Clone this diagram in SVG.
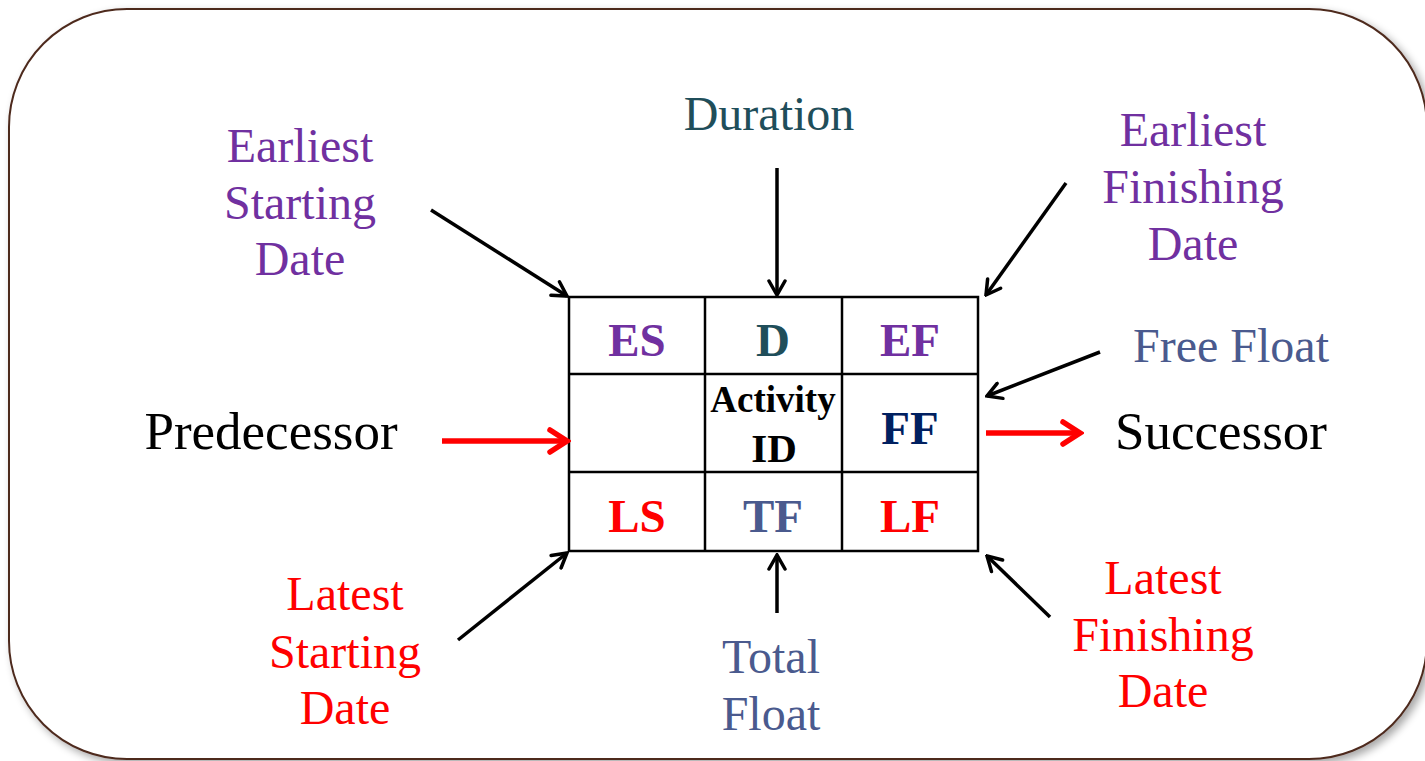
<svg xmlns="http://www.w3.org/2000/svg" width="1425" height="761" viewBox="0 0 1425 761">
  <defs>
    <filter id="shadow" x="-5%" y="-5%" width="110%" height="110%">
      <feGaussianBlur in="SourceAlpha" stdDeviation="4"/>
      <feOffset dx="4" dy="4" result="b"/>
      <feComponentTransfer><feFuncA type="linear" slope="0.35"/></feComponentTransfer>
      <feMerge><feMergeNode/><feMergeNode in="SourceGraphic"/></feMerge>
    </filter>
    <marker id="head" markerUnits="userSpaceOnUse" viewBox="0 0 20 20" refX="18" refY="10" markerWidth="20" markerHeight="20" orient="auto">
      <path d="M4,2 L18,10 L4,18" fill="none" stroke="#000" stroke-width="3.5" stroke-linecap="round" stroke-linejoin="miter"/>
    </marker>
    <marker id="headRed" markerUnits="userSpaceOnUse" viewBox="0 0 30 30" refX="26" refY="15" markerWidth="30" markerHeight="30" orient="auto">
      <path d="M9,4 L26,15 L9,26" fill="none" stroke="#ff0000" stroke-width="5.5" stroke-linecap="round" stroke-linejoin="miter"/>
    </marker>
  </defs>
  <style>
    .lbl { font-family: "Liberation Serif", "Times New Roman", serif; font-size: 48px; text-anchor: middle; }
    .big { font-size: 53px; }
    .cell { font-family: "Liberation Serif", "Times New Roman", serif; font-size: 47px; font-weight: bold; text-anchor: middle; }
    .act { font-size: 37px; }
    .id { font-size: 41px; }
    .purple { fill: #7030a0; }
    .teal { fill: #1f4e5a; }
    .slate { fill: #4a5a8e; }
    .navy { fill: #002060; }
    .red { fill: #ff0000; }
    .black { fill: #000; }
    .grid { fill: #fff; stroke: #000; stroke-width: 2.5; }
    .gl { stroke: #000; stroke-width: 2.5; }
    .arr { stroke: #000; stroke-width: 3.5; fill: none; marker-end: url(#head); }
    .arrRed { stroke: #ff0000; stroke-width: 5.5; fill: none; marker-end: url(#headRed); }
  </style>

  <rect width="1425" height="761" fill="#fff"/>

  <!-- outer rounded frame -->
  <rect id="frame" x="9" y="9" width="1418" height="750" rx="118" ry="118" fill="#fff" stroke="#4e2a1e" stroke-width="2" filter="url(#shadow)"/>

  <!-- activity node grid -->
  <g id="activity-node">
    <rect class="grid" x="569" y="297" width="409" height="254"/>
    <line class="gl" x1="705" y1="297" x2="705" y2="551"/>
    <line class="gl" x1="842" y1="297" x2="842" y2="551"/>
    <line class="gl" x1="569" y1="374" x2="978" y2="374"/>
    <line class="gl" x1="569" y1="472" x2="978" y2="472"/>
    <text class="cell purple" x="637" y="356">ES</text>
    <text class="cell teal" x="773" y="356">D</text>
    <text class="cell purple" x="910" y="356">EF</text>
    <text class="cell act black" x="773" y="412">Activity</text>
    <text class="cell id black" x="774" y="462">ID</text>
    <text class="cell navy" x="910" y="444">FF</text>
    <text class="cell red" x="637" y="532">LS</text>
    <text class="cell slate" x="773" y="532">TF</text>
    <text class="cell red" x="910" y="532">LF</text>
  </g>

  <!-- labels -->
  <g id="label-es">
    <text class="lbl purple" x="300" y="162">Earliest</text>
    <text class="lbl purple" x="300" y="219">Starting</text>
    <text class="lbl purple" x="300" y="275">Date</text>
  </g>
  <g id="label-duration">
    <text class="lbl teal" x="769" y="130">Duration</text>
  </g>
  <g id="label-ef">
    <text class="lbl purple" x="1193" y="146">Earliest</text>
    <text class="lbl purple" x="1193" y="203">Finishing</text>
    <text class="lbl purple" x="1193" y="260">Date</text>
  </g>
  <g id="label-ff">
    <text class="lbl slate" x="1231" y="362">Free Float</text>
  </g>
  <g id="label-predecessor">
    <text class="lbl big black" x="271" y="449">Predecessor</text>
  </g>
  <g id="label-successor">
    <text class="lbl big black" x="1221" y="449">Successor</text>
  </g>
  <g id="label-ls">
    <text class="lbl red" x="345" y="610">Latest</text>
    <text class="lbl red" x="345" y="668">Starting</text>
    <text class="lbl red" x="345" y="724">Date</text>
  </g>
  <g id="label-tf">
    <text class="lbl slate" x="771" y="673">Total</text>
    <text class="lbl slate" x="771" y="730">Float</text>
  </g>
  <g id="label-lf">
    <text class="lbl red" x="1163" y="594">Latest</text>
    <text class="lbl red" x="1163" y="651">Finishing</text>
    <text class="lbl red" x="1163" y="707">Date</text>
  </g>

  <!-- connectors -->
  <g id="connectors">
    <line class="arr" x1="431" y1="210" x2="567" y2="296"/>
    <line class="arr" x1="777" y1="168" x2="777" y2="295"/>
    <line class="arr" x1="1066" y1="183" x2="986" y2="295"/>
    <line class="arr" x1="1100" y1="352" x2="987" y2="396"/>
    <line class="arr" x1="458" y1="640" x2="567" y2="553"/>
    <line class="arr" x1="777" y1="613" x2="777" y2="555"/>
    <line class="arr" x1="1050" y1="617" x2="987" y2="556"/>
    <line class="arrRed" x1="442" y1="441" x2="567" y2="441"/>
    <line class="arrRed" x1="986" y1="433" x2="1080" y2="433"/>
  </g>
</svg>
